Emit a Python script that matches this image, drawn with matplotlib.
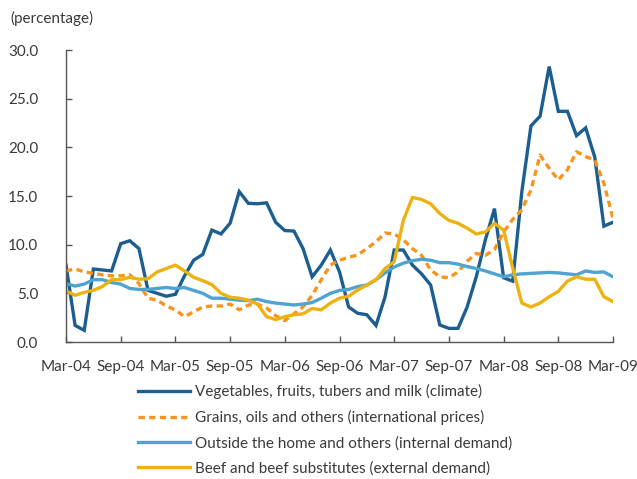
import matplotlib
matplotlib.use("Agg")
import matplotlib.pyplot as plt
import numpy as np

months = ["Mar-04", "Sep-04", "Mar-05", "Sep-05", "Mar-06", "Sep-06",
          "Mar-07", "Sep-07", "Mar-08", "Sep-08", "Mar-09"]

vegetables = [7.9, 1.7, 1.2, 7.5, 7.4, 7.3, 10.1, 10.4, 9.6, 5.3, 5.0, 4.7, 4.9,
              6.8, 8.4, 9.0, 11.5, 11.1, 12.2, 15.45, 14.25, 14.2, 14.3, 12.3, 11.45,
              11.4, 9.6, 6.7, 7.9, 9.45, 7.2, 3.6, 2.95, 2.8, 1.7, 4.65, 9.45,
              9.45, 7.9, 7.0, 5.85, 1.75, 1.4, 1.4, 3.6, 6.7, 10.5, 13.7, 6.6,
              6.25, 15.45, 22.2, 23.2, 28.3, 23.7, 23.7, 21.2, 22.0, 19.0, 11.9, 12.3]

grains = [7.3, 7.5, 7.2, 7.05, 6.9, 6.8, 6.8, 6.9, 6.0, 4.5, 4.3, 3.7, 3.3,
          2.6, 3.1, 3.6, 3.7, 3.7, 3.9, 3.3, 3.8, 3.9, 3.5, 2.7, 2.2,
          2.9, 3.6, 4.8, 6.4, 7.9, 8.4, 8.7, 8.95, 9.6, 10.3, 11.2, 11.1,
          10.5, 9.6, 8.9, 7.4, 6.7, 6.6, 7.2, 8.3, 9.1, 8.9, 9.5, 11.3,
          12.6, 13.6, 15.6, 19.2, 17.85, 16.65, 17.7, 19.55, 19.05, 18.7, 16.3, 12.7]

outside = [6.0, 5.75, 5.95, 6.4, 6.4, 6.1, 5.95, 5.5, 5.4, 5.4, 5.5, 5.6, 5.5,
           5.6, 5.3, 5.0, 4.5, 4.5, 4.4, 4.3, 4.25, 4.4, 4.15, 4.0, 3.9,
           3.8, 3.9, 4.05, 4.5, 5.0, 5.3, 5.4, 5.7, 5.85, 6.4, 7.1, 7.7,
           8.1, 8.35, 8.5, 8.4, 8.15, 8.15, 8.0, 7.75, 7.55, 7.3, 7.0, 6.7,
           6.9, 7.0, 7.05, 7.1, 7.15, 7.1, 7.0, 6.9, 7.3, 7.15, 7.2, 6.7]

beef = [5.25, 4.8, 5.1, 5.3, 5.7, 6.4, 6.4, 6.65, 6.45, 6.5, 7.2, 7.55, 7.9,
        7.3, 6.65, 6.3, 5.9, 5.0, 4.6, 4.5, 4.3, 3.9, 2.6, 2.3, 2.6,
        2.8, 2.9, 3.45, 3.3, 4.0, 4.5, 4.7, 5.35, 5.85, 6.4, 7.55, 8.25,
        12.5, 14.85, 14.65, 14.2, 13.2, 12.5, 12.2, 11.7, 11.1, 11.3, 12.2, 11.5,
        7.6, 4.0, 3.6, 4.0, 4.65, 5.2, 6.25, 6.7, 6.45, 6.45, 4.65, 4.15]

labels = ["Vegetables, fruits, tubers and milk (climate)",
          "Grains, oils and others (international prices)",
          "Outside the home and others (internal demand)",
          "Beef and beef substitutes (external demand)"]

plt.rcParams['font.family'] = ['Lato', 'DejaVu Sans']

fig = plt.figure(figsize=(6.37, 4.79), dpi=100)
ax = fig.add_axes([66/637, 1 - 342/479, (613 - 66)/637, (342 - 50)/479])

x = np.arange(len(vegetables))
text_color = "#3a3a3a"
l1, = ax.plot(x, vegetables, color="#1B5E8F", lw=2.4, solid_joinstyle='miter')
l2, = ax.plot(x, grains, color="#F7941D", lw=2.4, dashes=(1.9, 1.3))
l3, = ax.plot(x, outside, color="#4FA3D1", lw=2.4)
l4, = ax.plot(x, beef, color="#EDB20F", lw=2.4)

ax.set_xlim(0, 60)
ax.set_ylim(0, 30)
ax.set_xticks(np.arange(0, 61, 6))
ax.set_xticklabels(months)
ax.set_yticks(np.arange(0, 31, 5))
ax.set_yticklabels([f"{v:.1f}" for v in np.arange(0, 31, 5)])

for s in ["top", "right"]:
    ax.spines[s].set_visible(False)
for s in ["left", "bottom"]:
    ax.spines[s].set_color("#555555")
    ax.spines[s].set_linewidth(1.0)
ax.tick_params(direction="in", length=4, width=1, color="#555555",
               labelsize=11, labelcolor=text_color)
ax.tick_params(axis="x", pad=13)
ax.tick_params(axis="y", pad=20)

fig.text(10/637, 1 - 18/479, "(percentage)", fontsize=11, color=text_color,
         va="center", ha="left")

fig.legend([l1, l2, l3, l4], labels, loc="upper left",
           bbox_to_anchor=(138/637, 1 - 384/479), frameon=False,
           fontsize=11, labelcolor=text_color, handlelength=3.4,
           handletextpad=0.3, labelspacing=0.72, borderpad=0, borderaxespad=0)

fig.savefig("out.png", dpi=100)
